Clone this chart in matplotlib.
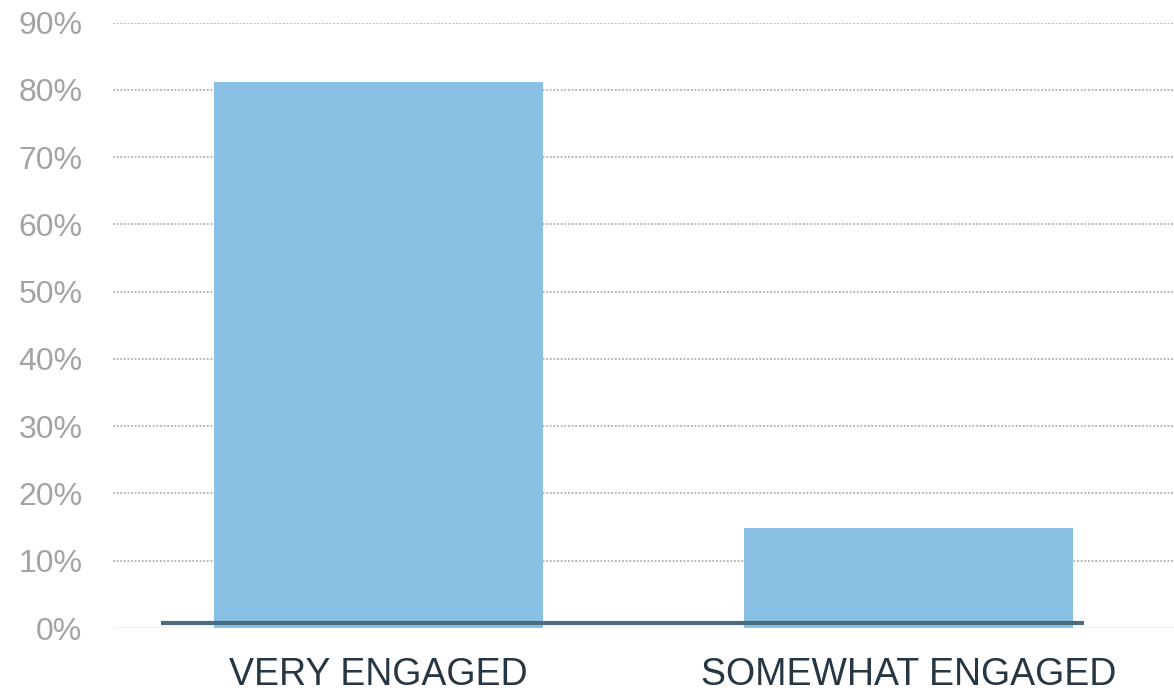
import numpy as np
import matplotlib.pyplot as plt

plt.rcParams['font.family'] = ['Liberation Sans', 'DejaVu Sans']

categories = ["VERY ENGAGED", "SOMEWHAT ENGAGED"]
values = [81.2, 14.9]
line_values = [0.7, 0.7]
line_x = [-0.41, 1.33]
yticks = [0, 10, 20, 30, 40, 50, 60, 70, 80, 90]

fig = plt.figure(figsize=(11.74, 6.91), dpi=100)
ax = fig.add_axes([113 / 1174, 1 - 628 / 691, 1 - 113 / 1174, (628 - 22.7) / 691])

x = np.arange(len(categories))

# dotted gridlines
for t in yticks[1:]:
    ax.axhline(t, color="#b0b0b0", linestyle=(0, (1, 1)), linewidth=1.3, zorder=0)
ax.axhline(0, color="#e8f0f8", linewidth=2, zorder=0)

ax.bar(x, values, width=0.62, color="#89c0e4", zorder=2)
ax.plot(line_x, line_values, color="#4b6b80", linewidth=3, solid_capstyle="butt", zorder=3)

ax.set_xlim(-0.5, 1.5)
ax.set_ylim(0, 90)
ax.set_yticks(yticks)
ax.set_yticklabels([f"{t}%" for t in yticks], fontsize=23, color="#a3a3a3")
ax.set_xticks(x)
ax.set_xticklabels(categories, fontsize=27, color="#263743")
ax.tick_params(axis="both", length=0)
ax.tick_params(axis="y", pad=22)
ax.tick_params(axis="x", pad=21)

for s in ax.spines.values():
    s.set_visible(False)

fig.savefig("out.png", dpi=100)
